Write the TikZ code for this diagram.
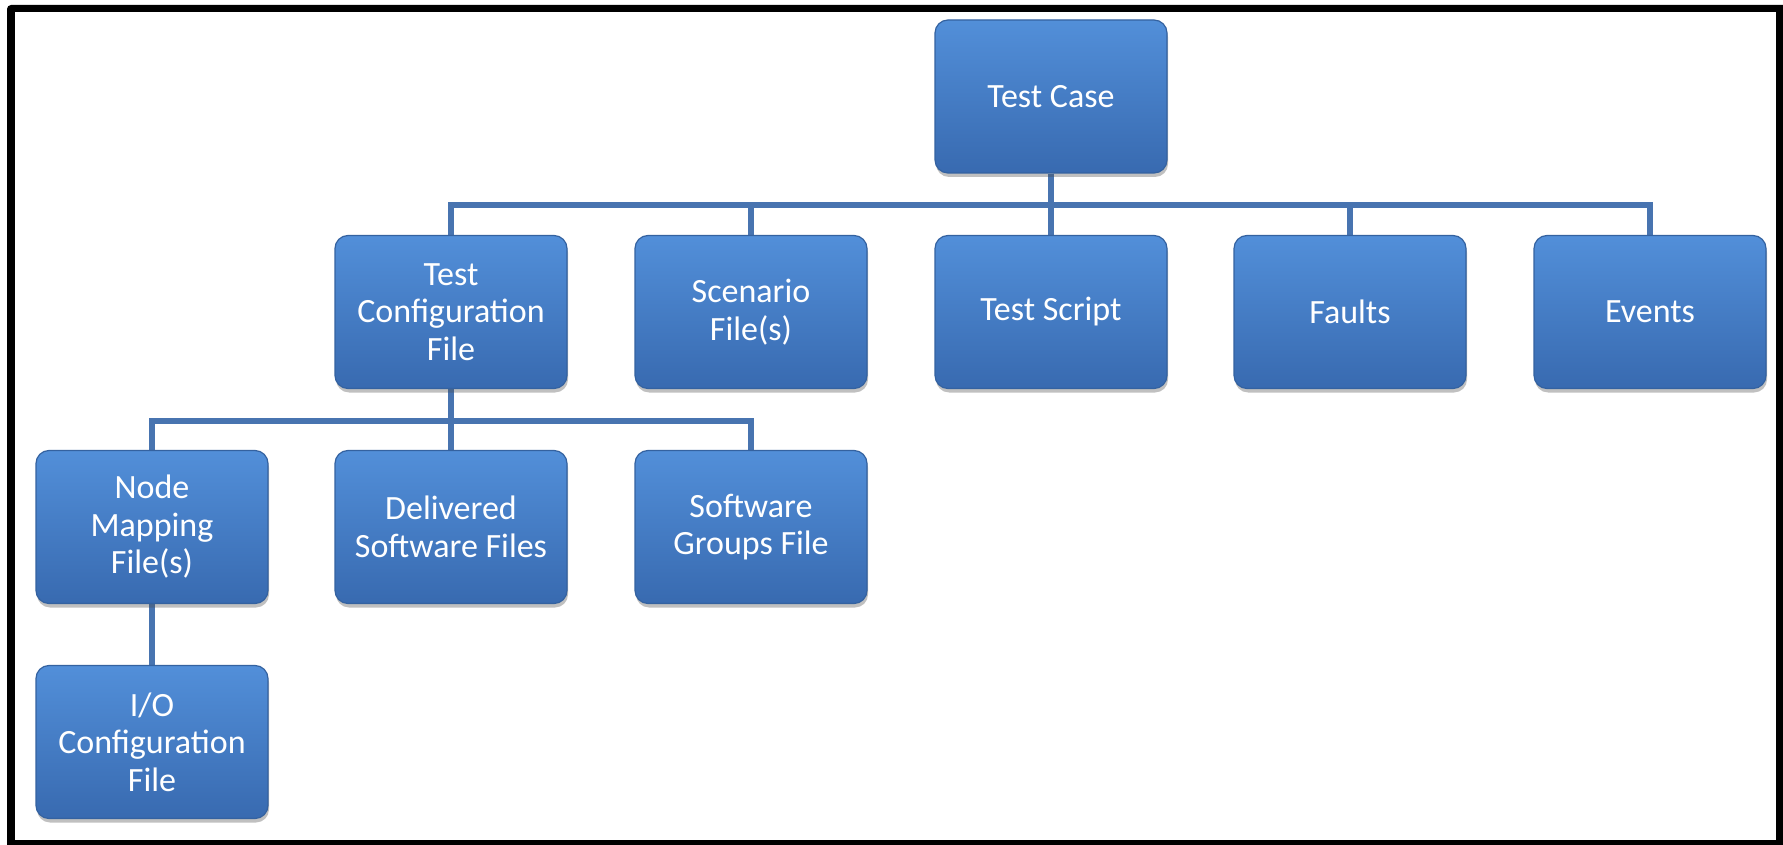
\documentclass[tikz,border=0pt]{standalone}
\usepackage{fontspec}
\setmainfont{Carlito}
\usetikzlibrary{shadows,calc}
\pgfdeclarelayer{frame}
\pgfdeclarelayer{wires}
\pgfsetlayers{frame,wires,main}
\definecolor{boxtop}{RGB}{82,143,217}
\definecolor{boxbot}{RGB}{56,106,176}
\definecolor{boxedge}{RGB}{52,98,160}
\definecolor{wire}{RGB}{72,116,176}
\tikzset{
  item/.style={rectangle, rounded corners=6.5pt, minimum width=116pt,
    minimum height=76.5pt, inner sep=0pt, align=center, text=white,
    font=\fontsize{17}{18.75}\selectfont, top color=boxtop, bottom color=boxbot,
    draw=boxedge, line width=0.6pt,
    drop shadow={shadow xshift=0.5pt, shadow yshift=-2pt, opacity=0.35, fill=black!70}},
  link/.style={draw=wire, line width=3pt},
}
\begin{document}
\begin{tikzpicture}[x=0.5pt,y=-0.5pt]
\useasboundingbox (0,0) rectangle (1783,845);
% outer frame
\begin{pgfonlayer}{frame}
  \fill[black, rounded corners=2pt] (7,5) rectangle (1790,850);
  \fill[white] (15,12) rectangle (1776,840);
\end{pgfonlayer}

% top level
\node[item] (tc) at (1051,96.5) {Test Case};
% second level
\node[item] (cfg) at (451,312) {Test\\Configuration\\File};
\node[item] (scn) at (751,312) {Scenario\\File(s)};
\node[item] (scr) at (1051,312) {Test Script};
\node[item] (flt) at (1350,312) {Faults};
\node[item] (evt) at (1650,312) {Events};
% third level
\node[item] (map) at (152,527) {Node\\Mapping\\File(s)};
\node[item] (dsw) at (451,527) {Delivered\\Software Files};
\node[item] (grp) at (751,527) {Software\\Groups File};
% fourth level
\node[item] (io) at (152,742) {I/O\\Configuration\\File};

\coordinate (bus1) at (1051,205);
\coordinate (bus2) at (451,421);

\begin{pgfonlayer}{wires}
  \foreach \c in {cfg,scn,scr,flt,evt}
    \draw[link] (tc.south) |- (bus1 -| \c.north) -- (\c.north);
  \foreach \c in {map,dsw,grp}
    \draw[link] (cfg.south) |- (bus2 -| \c.north) -- (\c.north);
  \draw[link] (map.south) -- (io.north);
\end{pgfonlayer}
\end{tikzpicture}
\end{document}
